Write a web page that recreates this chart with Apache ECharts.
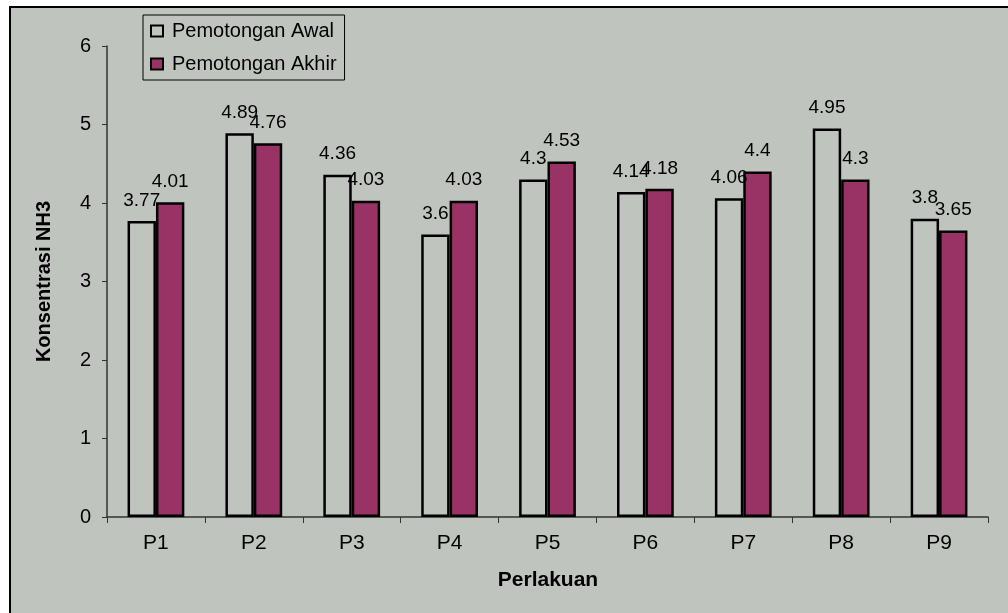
<!DOCTYPE html>
<html><head><meta charset="utf-8">
<script src="https://cdn.jsdelivr.net/npm/echarts@6/dist/echarts.min.js"></script>
<style>html,body{margin:0;padding:0;background:#fff}#c{width:1008px;height:613px}</style>
</head><body><div id="c"></div>
<script>
const categories = ['P1','P2','P3','P4','P5','P6','P7','P8','P9'];
const awal = [3.77, 4.89, 4.36, 3.6, 4.3, 4.14, 4.06, 4.95, 3.8];
const akhir = [4.01, 4.76, 4.03, 4.03, 4.53, 4.18, 4.4, 4.3, 3.65];
const yTicks = [0,1,2,3,4,5,6];
const seriesNames = ['Pemotongan Awal','Pemotongan Akhir'];

const BG = '#C0C4BF';
const font = 'Liberation Sans, Arial, sans-serif';
const chart = echarts.init(document.getElementById('c'), null, {renderer:'canvas'});
const lbl = {show:true, position:'top', distance:11, color:'#000', fontFamily:font, fontSize:19};
chart.setOption({
  animation:false,
  backgroundColor:'#fff',
  graphic:[
    {type:'rect', z:-10, silent:true, shape:{x:10,y:7,width:1010,height:620}, style:{fill:BG, stroke:'#000', lineWidth:2}},
    {type:'text', x:548, y:580, style:{text:'Perlakuan', align:'center', verticalAlign:'middle', fontFamily:font, fontSize:21, fontWeight:'bold', fill:'#000'}}
  ],
  grid:{left:107, right:20, top:46, bottom:96, containLabel:false},
  legend:{
    orient:'vertical', left:143, top:15, padding:[6,8,6,7], itemGap:13,
    itemWidth:12, itemHeight:11, icon:'rect',
    borderColor:'#000', borderWidth:1,
    textStyle:{fontFamily:font, fontSize:20, color:'#000', padding:[0,0,0,4]},
    data:seriesNames.map(n=>({name:n, itemStyle:{borderColor:'#000', borderWidth:2}}))
  },
  xAxis:{
    type:'category', data:categories,
    axisLine:{lineStyle:{color:'#333', width:1.5}},
    axisTick:{show:true, length:6, alignWithLabel:false, lineStyle:{color:'#333'}},
    axisLabel:{color:'#000', fontFamily:font, fontSize:21, margin:16}
  },
  yAxis:{
    type:'value', min:yTicks[0], max:yTicks[yTicks.length-1], interval:1,
    name:'Konsentrasi NH3', nameLocation:'middle', nameGap:53,
    nameTextStyle:{fontFamily:font, fontSize:20, fontWeight:'bold', color:'#000'},
    axisLine:{show:true, lineStyle:{color:'#333', width:1.5}},
    axisTick:{show:true, length:5, lineStyle:{color:'#333'}},
    splitLine:{show:false},
    axisLabel:{color:'#000', fontFamily:font, fontSize:20, margin:16}
  },
  series:[
    {name:seriesNames[0], type:'bar', data:awal, barGap:'0%', barCategoryGap:'42%',
     itemStyle:{color:BG, borderColor:'#000', borderWidth:2.5}, label:lbl},
    {name:seriesNames[1], type:'bar', data:akhir,
     itemStyle:{color:'#993366', borderColor:'#000', borderWidth:2.5}, label:lbl}
  ]
});
</script></body></html>
